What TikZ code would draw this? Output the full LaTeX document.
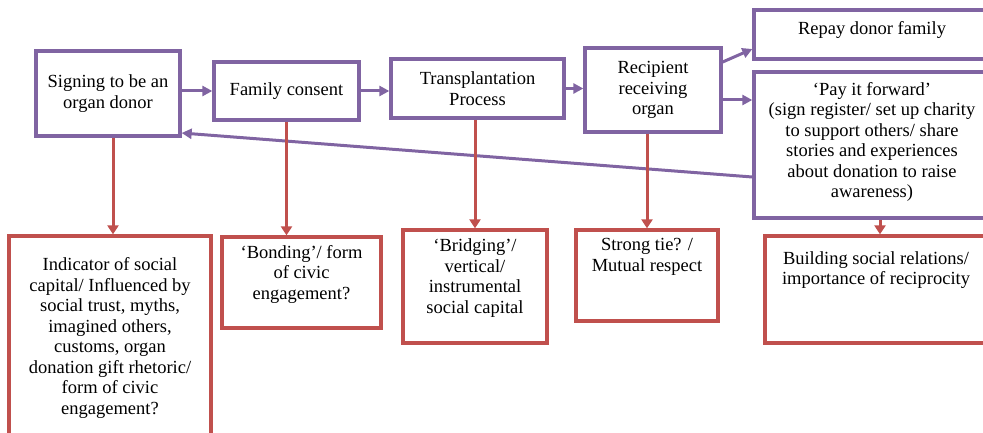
\documentclass[tikz,border=0pt]{standalone}
\usepackage{fontspec}
\setmainfont{Liberation Serif}
\usetikzlibrary{arrows.meta}
\definecolor{pur}{HTML}{8064A2}
\definecolor{redb}{HTML}{C0504D}
\tikzset{
 pbox/.style={draw=pur, line width=3.3pt, fill=white, inner sep=0pt, align=center, font=\fontsize{18.5}{20.5}\selectfont},
 rbox/.style={draw=redb, line width=3.3pt, fill=white, inner sep=0pt},
 txt/.style={align=center, inner sep=0pt, font=\fontsize{18.5}{20.5}\selectfont},
 parr/.style={draw=pur, line width=3pt, -{Triangle[length=10pt,width=10pt]}},
 rarr/.style={draw=redb, line width=3pt, -{Triangle[length=9pt,width=11pt]}},
}
\begin{document}
\begin{tikzpicture}[x=1pt,y=-1pt]
\useasboundingbox (0,0) rectangle (983,433);
\clip (0,0) rectangle (983,433);
% top row
\node[pbox, minimum width=144pt, minimum height=85pt] (a) at (108,93.5) {Signing to be an\\organ donor};
\node[pbox, minimum width=145pt, minimum height=58pt] (b) at (286.5,91) {Family consent};
\node[pbox, minimum width=173pt, minimum height=59pt] (c) at (477.5,88.5) {Transplantation\\Process};
\node[pbox, minimum width=136pt, minimum height=84pt] (d) at (653,90) {Recipient\\receiving\\organ};
\node[pbox, minimum width=250pt, minimum height=49pt] (e) at (879,34.5) {};
\node[txt] (et) at (872,30) {Repay donor family};
\node[pbox, minimum width=250pt, minimum height=146pt] (f) at (879,145) {};
\node[txt] (ft) at (872,142) {‘Pay it forward’\\(sign register/ set up charity\\to support others/ share\\stories and experiences\\about donation to raise\\awareness)};
% bottom row
\node[rbox, minimum width=202pt, minimum height=209pt] (g) at (110,340.5) {};
\node[txt] (gt) at (110,338) {Indicator of social\\capital/ Influenced by\\social trust, myths,\\imagined others,\\customs, organ\\donation gift rhetoric/\\form of civic\\engagement?};
\node[rbox, minimum width=159pt, minimum height=91pt] (h) at (301.5,282.5) {};
\node[txt] (ht) at (301.5,274) {‘Bonding’/ form\\of civic\\engagement?};
\node[rbox, minimum width=144pt, minimum height=113pt] (i) at (475,286.5) {};
\node[txt] (it) at (475,278) {‘Bridging’/\\vertical/\\instrumental\\social capital};
\node[rbox, minimum width=142pt, minimum height=91pt] (j) at (647,275.5) {};
\node[txt] (jt) at (647,257) {Strong tie? /\\Mutual respect};
\node[rbox, minimum width=240pt, minimum height=107pt] (k) at (885,289.5) {};
\node[txt] (kt) at (876,270) {Building social relations/\\importance of reciprocity};
% purple connectors
\draw[parr] (a.east |- b.west) -- (b.west);
\draw[parr] (b.east) -- (b.east -| c.west);
\draw[parr] (c.east) -- (c.east -| d.west);
\draw[parr] ([yshift=28pt]d.east) -- ([yshift=-14.5pt]e.west);
\draw[parr] ([yshift=-10pt]d.east) -- ([yshift=-10pt]d.east -| f.west);
\draw[parr] ([yshift=-32pt]f.west) -- ([yshift=-39.5pt]a.east);
% red connectors
\draw[rarr] ([xshift=5pt]a.south) -- ([xshift=5pt]a.south |- g.north);
\draw[rarr] (b.south) -- (b.south |- h.north);
\draw[rarr] (i.north |- c.south) -- (i.north);
\draw[rarr] (j.north |- d.south) -- (j.north);
\draw[rarr] ([xshift=1pt]f.south) -- ([xshift=1pt]f.south |- k.north);
\end{tikzpicture}
\end{document}
